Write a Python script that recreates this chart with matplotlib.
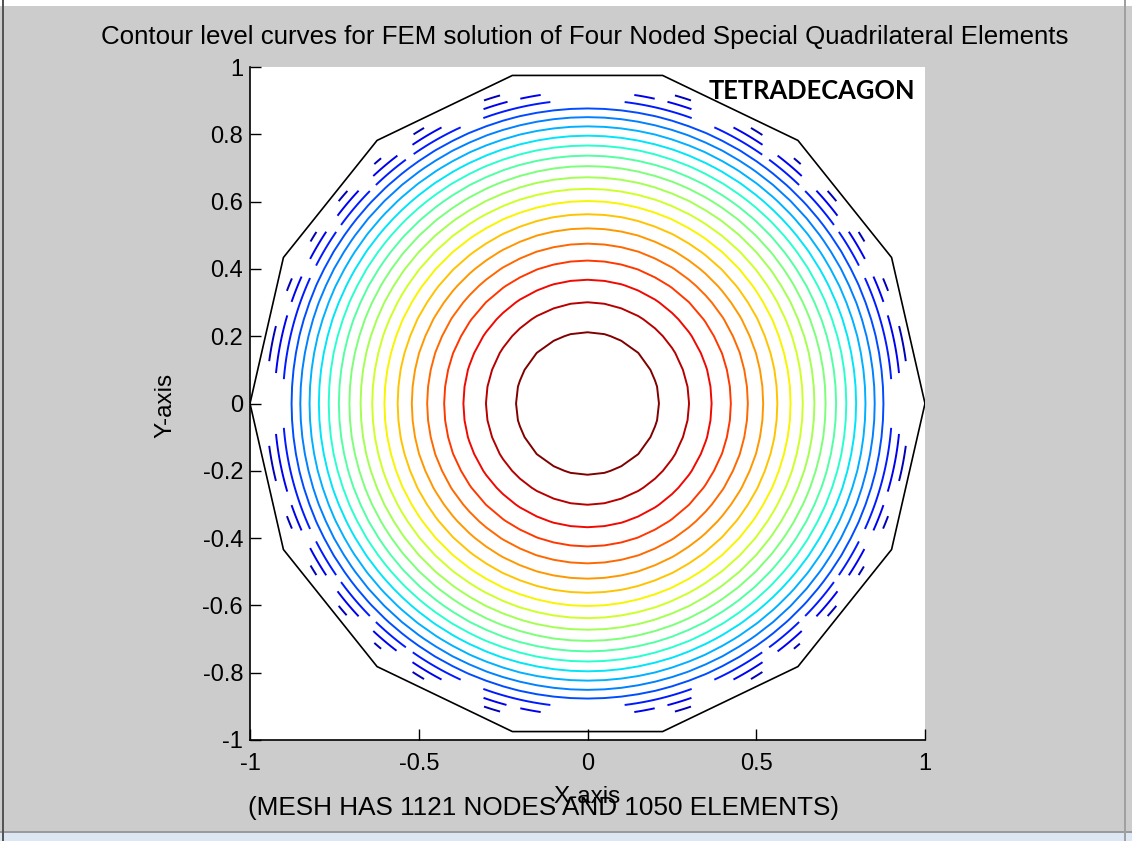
import numpy as np
import matplotlib
matplotlib.use("Agg")
import matplotlib.pyplot as plt
from matplotlib.colors import Normalize

# ---- data -------------------------------------------------------------
n_sides = 14                      # tetradecagon
n_levels = 20                     # contour levels (as in contour(...,20))
# Outermost levels break up near the boundary; the pieces that survive are
# listed as angular windows (degrees) in the second quadrant and reflected
# about both axes.
broken_level_windows = {
    1: [(105.7, 108.9), (120.5, 123.0), (129.9, 131.6), (138.4, 140.9),
        (147.5, 149.6), (157.0, 159.5), (166.0, 172.5)],
    2: [(98.5, 102.5), (104.8, 109.5), (117.8, 124.0), (127.4, 133.3),
        (136.9, 143.1), (146.6, 152.4), (156.0, 161.0), (163.5, 174.5)],
    3: [(97.0, 110.0), (114.6, 125.0), (126.5, 134.0), (135.5, 144.0),
        (145.5, 153.0), (155.5, 175.5)],
}
xticks = [-1, -0.5, 0, 0.5, 1]
yticks = [-1, -0.8, -0.6, -0.4, -0.2, 0, 0.2, 0.4, 0.6, 0.8, 1]
xticklabels = ["-1", "-0.5", "0", "0.5", "1"]
yticklabels = ["-1", "-0.8", "-0.6", "-0.4", "-0.2", "0", "0.2", "0.4", "0.6", "0.8", "1"]
title = "Contour level curves for FEM solution of Four Noded Special Quadrilateral Elements"
mesh_note = "(MESH HAS 1121 NODES AND 1050 ELEMENTS)"
shape_name = "TETRADECAGON"

# ---- geometry & solution ---------------------------------------------
ang = 2 * np.pi * np.arange(n_sides + 1) / n_sides
px, py = np.cos(ang), np.sin(ang)
r_in = np.cos(np.pi / n_sides)


def solution(x, y):
    return r_in ** 2 - (x ** 2 + y ** 2)


umax = r_in ** 2
levels = umax * np.arange(1, n_levels + 1) / (n_levels + 1)
norm = Normalize(vmin=0.0, vmax=levels[-1])
cmap = plt.get_cmap("jet")


def fold_angle(theta_deg):
    """Reflect an angle into the second quadrant [90, 180]."""
    t = np.mod(theta_deg, 360.0)
    t = np.where(t > 180.0, 360.0 - t, t)
    return np.where(t < 90.0, 180.0 - t, t)


# ---- figure -----------------------------------------------------------
W, H = 1132, 841
fig = plt.figure(figsize=(W / 100, H / 100), dpi=100, facecolor="#cccccc")
# window frame strips
fig.patches.append(plt.Rectangle((0, 1 - 6 / H), 1, 6 / H, transform=fig.transFigure,
                                 facecolor="white", edgecolor="none"))
fig.patches.append(plt.Rectangle((0, 0), 1, 8 / H, transform=fig.transFigure,
                                 facecolor="#dce7f3", edgecolor="none"))
fig.patches.append(plt.Rectangle((0, 8 / H), 1, 2 / H, transform=fig.transFigure,
                                 facecolor="#9a9a9a", edgecolor="none"))
fig.patches.append(plt.Rectangle((2 / W, 0), 2 / W, 1, transform=fig.transFigure,
                                 facecolor="#555555", edgecolor="none"))
fig.patches.append(plt.Rectangle((1 - 8 / W, 0), 2 / W, 1, transform=fig.transFigure,
                                 facecolor="#a0a0a0", edgecolor="none"))

ax = fig.add_axes([250 / W, (H - 740) / H, 675 / W, 673 / H])
ax.set_facecolor("white")

# continuous levels on a Cartesian grid
g = np.linspace(-1, 1, 41)
X, Y = np.meshgrid(g, g)
U = solution(X, Y)
n_broken = max(broken_level_windows)
ax.contour(X, Y, U, levels=levels[n_broken:], cmap=cmap, norm=norm, linewidths=1.4)

# broken outer levels on a polar grid
rr = np.linspace(0.8, 0.99, 60)
tt = np.deg2rad(np.arange(0, 360.001, 0.2))
R, T = np.meshgrid(rr, tt)
XP, YP = R * np.cos(T), R * np.sin(T)
UP = solution(XP, YP)
folded = fold_angle(np.rad2deg(T))
for k, windows in broken_level_windows.items():
    keep = np.zeros_like(folded, dtype=bool)
    for a, b in windows:
        keep |= (folded >= a) & (folded <= b)
    ax.contour(XP, YP, np.ma.array(UP, mask=~keep), levels=[levels[k - 1]],
               colors=[cmap(norm(levels[k - 1]))], linewidths=1.4)

# polygon boundary
ax.plot(px, py, color="black", lw=1.2)

ax.set_xlim(-1, 1)
ax.set_ylim(-1, 1)
ax.set_xticks(xticks)
ax.set_xticklabels(xticklabels)
ax.set_yticks(yticks)
ax.set_yticklabels(yticklabels)
for s in ("top", "right"):
    ax.spines[s].set_visible(False)
for s in ("left", "bottom"):
    ax.spines[s].set_linewidth(1.2)
ax.tick_params(direction="in", length=8, width=1.0, labelsize=17)
ax.tick_params(axis="x", pad=9)
ax.tick_params(axis="y", pad=5)
for lab in ax.get_xticklabels() + ax.get_yticklabels():
    lab.set_fontfamily("Liberation Sans")

fig.text(585 / W, 1 - 37 / H, title, ha="center", va="center", fontsize=18.6,
         family="Liberation Sans")
fig.text(587 / W, 1 - 797 / H, "X-axis", ha="center", va="center", fontsize=17.5,
         family="Liberation Sans")
fig.text(543 / W, 1 - 808 / H, mesh_note, ha="center", va="center", fontsize=18.8,
         family="Liberation Sans")
fig.text(165 / W, 1 - 405 / H, "Y-axis", ha="center", va="center", fontsize=17.5,
         rotation=90, family="Liberation Sans")
ax.text(0.985, 0.965, shape_name, transform=ax.transAxes, ha="right", va="center",
        fontsize=18.4, fontweight="bold", family="Lato")

fig.savefig("out.png", dpi=100, facecolor=fig.get_facecolor())
